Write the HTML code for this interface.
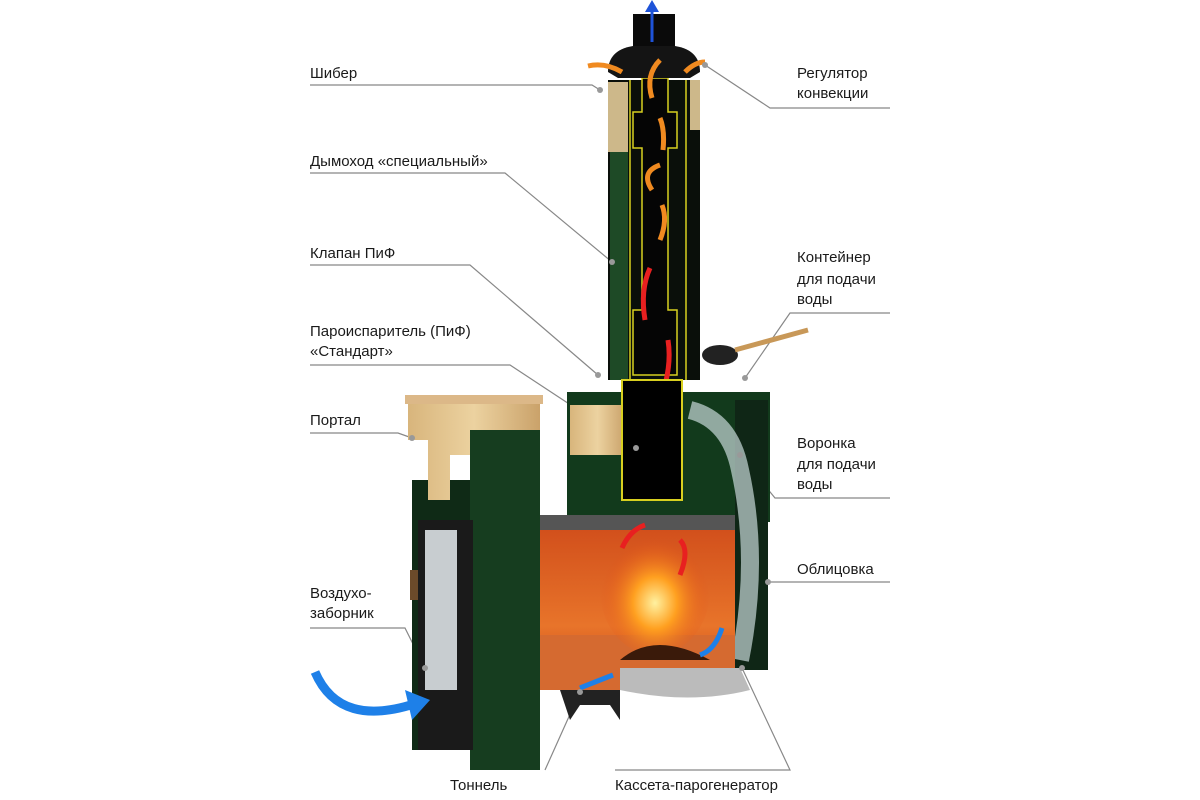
<!DOCTYPE html>
<html><head><meta charset="utf-8"><style>
html,body{margin:0;padding:0;background:#fff;width:1200px;height:800px;overflow:hidden}
svg{display:block}
text{font-family:"Liberation Sans","DejaVu Sans",sans-serif;font-size:15px;fill:#1a1a1a}
</style></head><body>
<svg width="1200" height="800" viewBox="0 0 1200 800" xmlns="http://www.w3.org/2000/svg">
<defs>
<linearGradient id="fire" x1="0" y1="0" x2="0" y2="1"><stop offset="0" stop-color="#d2501c"/><stop offset="0.6" stop-color="#e8742a"/><stop offset="1" stop-color="#c8461a"/></linearGradient>
<radialGradient id="flame" cx="0.5" cy="0.6" r="0.5"><stop offset="0" stop-color="#fff1a0"/><stop offset="0.4" stop-color="#ffa020"/><stop offset="1" stop-color="#e0501a" stop-opacity="0"/></radialGradient>
<linearGradient id="wood" x1="0" y1="0" x2="1" y2="0"><stop offset="0" stop-color="#d8b57c"/><stop offset="0.5" stop-color="#ecd2a0"/><stop offset="1" stop-color="#caa26a"/></linearGradient>
</defs>

<!-- leader lines -->
<g stroke="#888" stroke-width="1.2" fill="none">
<polyline points="310,85 592,85 600,90"/>
<polyline points="310,173 505,173 612,262"/>
<polyline points="310,265 470,265 598,375"/>
<polyline points="310,365 510,365 636,448"/>
<polyline points="310,433 398,433 412,438"/>
<polyline points="310,628 405,628 425,668"/>
<polyline points="545,770 580,692"/>
<polyline points="615,770 790,770 742,668"/>
<polyline points="890,108 770,108 705,65"/>
<polyline points="890,313 790,313 745,378"/>
<polyline points="890,498 775,498 740,455"/>
<polyline points="890,582 768,582"/>
</g>

<!-- chimney -->
<rect x="608" y="80" width="92" height="300" fill="#0a0f0a"/>
<rect x="610" y="120" width="18" height="260" fill="#1e4a26"/>
<rect x="608" y="82" width="20" height="70" fill="#cdb88a"/>
<rect x="690" y="80" width="10" height="50" fill="#cdb88a"/>
<path d="M642,78 H668 V112 H677 V148 H668 V310 H677 V375 H633 V310 H642 V148 H633 V112 H642Z" fill="#050505" stroke="#d8d020" stroke-width="1.5"/>
<line x1="630" y1="80" x2="630" y2="380" stroke="#d8d020" stroke-width="1.5"/>
<line x1="686" y1="80" x2="686" y2="380" stroke="#d8d020" stroke-width="1.5"/>
<rect x="633" y="14" width="42" height="34" fill="#0a0a0a"/>
<path d="M633,46 H675 Q700,50 700,72 L690,78 H618 L608,72 Q608,50 633,46Z" fill="#141414"/>
<path d="M652,42 V8" stroke="#1e53d8" stroke-width="3"/><path d="M645,12 L652,0 L659,12Z" fill="#1e53d8"/>
<g stroke="#f08a20" stroke-width="5" fill="none">
<path d="M622,72 Q605,62 588,66"/><path d="M685,72 Q695,62 705,62"/>
<path d="M652,98 Q645,75 660,60"/><path d="M663,150 Q665,130 660,118"/><path d="M652,190 Q640,172 660,165"/><path d="M660,240 Q668,220 662,205"/>
</g>
<g stroke="#e82020" stroke-width="5" fill="none">
<path d="M645,320 Q640,290 650,268"/><path d="M662,395 Q672,365 668,340"/><path d="M660,470 V440"/>
</g>

<!-- right block -->
<rect x="567" y="392" width="203" height="130" fill="#123a1c"/>
<rect x="570" y="405" width="55" height="50" fill="url(#wood)"/>
<rect x="622" y="380" width="60" height="120" fill="#000" stroke="#d8d020" stroke-width="2"/>
<rect x="735" y="400" width="33" height="270" fill="#0f2616"/>
<path d="M690,410 Q730,420 740,470 Q760,560 740,660" stroke="#c8d8d8" stroke-width="18" fill="none" opacity="0.7"/>
<ellipse cx="720" cy="355" rx="18" ry="10" fill="#222"/>
<path d="M735,350 L808,330" stroke="#c89858" stroke-width="5"/>

<!-- portal -->
<rect x="412" y="480" width="128" height="270" fill="#0f2a16"/>
<rect x="405" y="395" width="138" height="9" fill="#dcb888"/>
<path d="M408,404 H540 V480 L520,480 L520,440 L495,440 L495,500 L470,500 L470,455 L450,455 L450,500 L428,500 L428,440 L408,440Z" fill="url(#wood)"/>
<rect x="470" y="430" width="70" height="340" fill="#163d1f"/>
<rect x="418" y="520" width="55" height="230" fill="#1a1a1a"/>
<rect x="425" y="530" width="32" height="160" fill="#c8cdd0"/>
<rect x="410" y="570" width="8" height="30" fill="#6b4a2a"/>

<!-- firebox -->
<rect x="540" y="515" width="195" height="20" fill="#555"/>
<rect x="540" y="530" width="195" height="160" fill="url(#fire)"/>
<rect x="540" y="635" width="195" height="55" fill="#d56a30"/>
<ellipse cx="655" cy="590" rx="55" ry="65" fill="url(#flame)"/>
<path d="M620,660 Q655,630 710,660 Z" fill="#3a1a0a"/>
<path d="M620,690 Q690,705 750,690 L740,668 H620Z" fill="#bbb"/>
<path d="M560,690 H620 V720 L610,705 H580 L570,720Z" fill="#222"/>
<g stroke="#1e80e8" stroke-width="5" fill="none">
<path d="M580,688 Q600,680 613,675"/><path d="M700,655 Q715,650 722,628"/>
<path d="M315,672 Q340,730 420,702" stroke-width="9"/>
</g>
<path d="M405,690 L430,700 L412,720Z" fill="#1e80e8"/>
<g stroke="#e82020" stroke-width="5" fill="none"><path d="M622,548 Q630,530 645,525"/><path d="M680,575 Q690,550 680,540"/></g>

<!-- dots -->
<g fill="#999"><circle cx="600" cy="90" r="3"/><circle cx="705" cy="65" r="3"/><circle cx="612" cy="262" r="3"/><circle cx="598" cy="375" r="3"/><circle cx="636" cy="448" r="3"/><circle cx="412" cy="438" r="3"/><circle cx="425" cy="668" r="3"/><circle cx="745" cy="378" r="3"/><circle cx="740" cy="455" r="3"/><circle cx="768" cy="582" r="3"/><circle cx="580" cy="692" r="3"/><circle cx="742" cy="668" r="3"/></g>

<!-- labels -->
<text x="310" y="78">Шибер</text>
<text x="310" y="166">Дымоход «специальный»</text>
<text x="310" y="258">Клапан ПиФ</text>
<text x="310" y="336">Пароиспаритель (ПиФ)</text>
<text x="310" y="356">«Стандарт»</text>
<text x="310" y="425">Портал</text>
<text x="310" y="598">Воздухо-</text>
<text x="310" y="618">заборник</text>
<text x="450" y="790">Тоннель</text>
<text x="615" y="790">Кассета-парогенератор</text>
<text x="797" y="78">Регулятор</text>
<text x="797" y="98">конвекции</text>
<text x="797" y="262">Контейнер</text>
<text x="797" y="284">для подачи</text>
<text x="797" y="304">воды</text>
<text x="797" y="448">Воронка</text>
<text x="797" y="469">для подачи</text>
<text x="797" y="489">воды</text>
<text x="797" y="574">Облицовка</text>
</svg>
</body></html>
